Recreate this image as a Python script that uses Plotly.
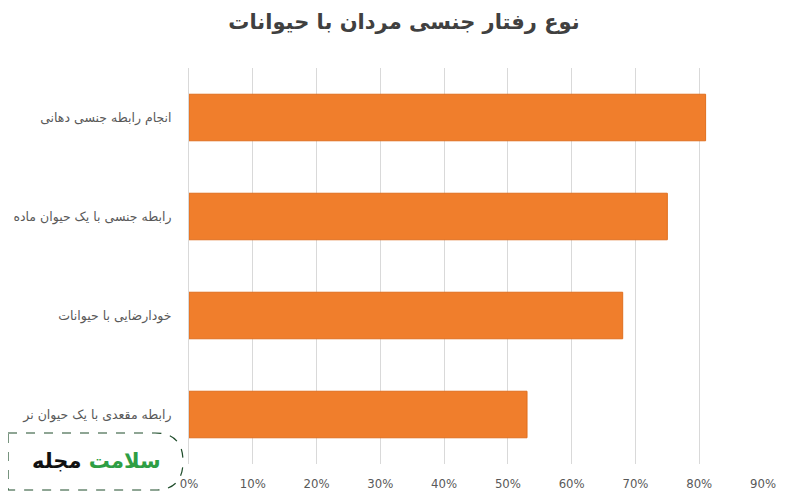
import plotly.graph_objects as go

categories = [
    "انجام رابطه جنسی دهانی",
    "رابطه جنسی با یک حیوان ماده",
    "خودارضایی با حیوانات",
    "رابطه مقعدی با یک حیوان نر",
]
values = [0.81, 0.75, 0.68, 0.53]
tick_vals = [0, 0.1, 0.2, 0.3, 0.4, 0.5, 0.6, 0.7, 0.8, 0.9]
tick_text = ["0%", "10%", "20%", "30%", "40%", "50%", "60%", "70%", "80%", "90%"]
title_text = "نوع رفتار جنسی مردان با حیوانات"

# page body has an 8px margin; figure sized to fill the rest of the window
OFF = 8
W, H = 800 - OFF, 500 - OFF
L, R, T, B = 189 - OFF, 37, 68 - OFF, 36
PW, PH = W - L - R, H - T - B

def px(x):
    return (x - OFF - L) / PW

def py(y):
    return (H - B - (y - OFF)) / PH

fig = go.Figure()
fig.add_trace(go.Bar(
    x=values, y=categories, orientation="h",
    marker=dict(color="#F07E2C", line=dict(color="#E06F1E", width=1)),
    width=0.47,
))

fig.update_layout(
    width=W, height=H,
    margin=dict(l=L, r=R, t=T, b=B, autoexpand=False),
    paper_bgcolor="white", plot_bgcolor="white",
    showlegend=False,
    font=dict(family="DejaVu Sans, sans-serif", color="#595959"),
    title=dict(text="<b>" + title_text + "</b>", x=0.5, xanchor="center",
               yref="container", y=1 - (22 - OFF) / H, yanchor="middle",
               font=dict(size=21, color="#404040", family="DejaVu Sans, sans-serif")),
    xaxis=dict(range=[0, 0.9], tickvals=tick_vals, ticktext=tick_text,
               showgrid=True, gridcolor="#D9D9D9", gridwidth=1,
               zeroline=False, showline=False, ticks="", automargin=False,
               tickfont=dict(size=13, color="#595959", family="Liberation Sans Narrow, DejaVu Sans Condensed, sans-serif"),
               ticklabelstandoff=10),
    yaxis=dict(categoryorder="array", categoryarray=categories, autorange="reversed",
               showgrid=False, zeroline=False, showline=True, linecolor="#D9D9D9",
               ticks="", automargin=False, tickfont=dict(size=12.5, color="#595959"),
               ticklabelstandoff=14),
)

# watermark box
x0, x1, y0, y1 = 8, 183, 433, 490
path = (f"M {px(x0)},{py(y0)} L {px(x1-28)},{py(y0)} "
        f"Q {px(x1)},{py(y0)} {px(x1)},{py((y0+y1)/2)} "
        f"Q {px(x1)},{py(y1)} {px(x1-28)},{py(y1)} "
        f"L {px(x0)},{py(y1)} Z")
fig.add_shape(type="path", path=path, xref="paper", yref="paper",
              line=dict(color="#1F4D2B", width=1.2, dash="dash"),
              fillcolor="rgba(255,255,255,1)", layer="above")
fig.add_annotation(
    x=px(96), y=py(461), xref="paper", yref="paper",
    text="<b><span style='color:#2E9E44'>سلامت</span> <span style='color:#111111'>مجله</span></b>",
    showarrow=False, font=dict(size=21, family="DejaVu Sans, sans-serif"),
    xanchor="center", yanchor="middle",
)

fig.write_html("out.html")
